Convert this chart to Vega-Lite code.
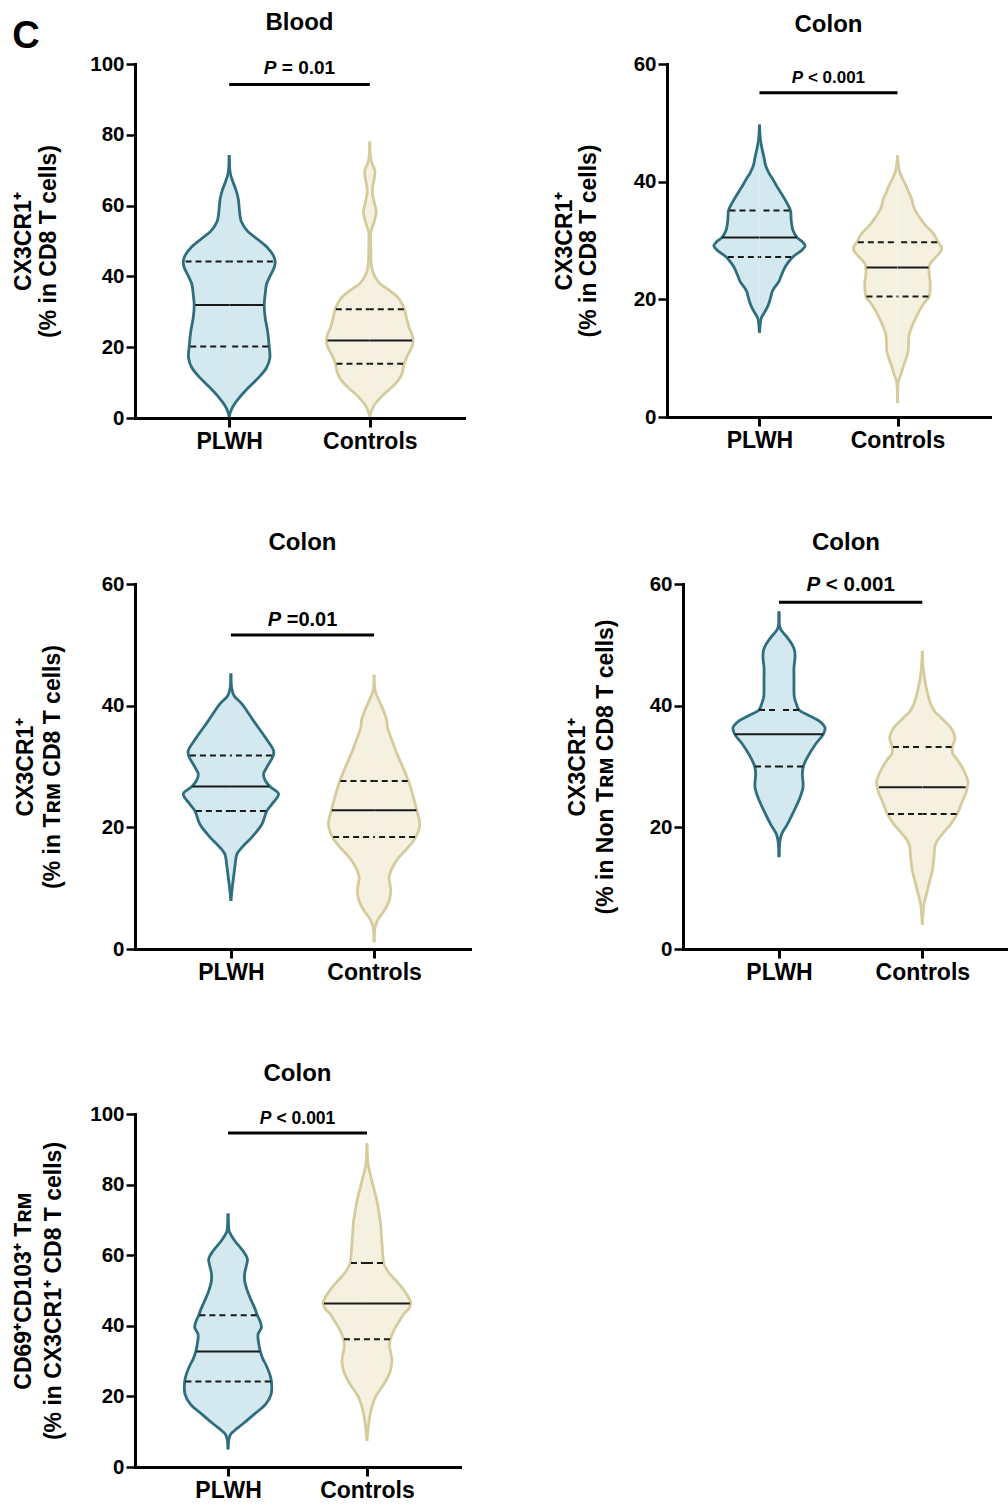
{
"$schema": "https://vega.github.io/schema/vega-lite/v6.json",
"background": "white",
"padding": {"left": 12, "top": 11, "right": 0, "bottom": 0},
"title": {"text": "C", "anchor": "start", "frame": "bounds", "fontSize": 38, "offset": -45},
"datasets": {
"outline": [
{"panel":1,"group":"PLWH","value":74.3,"density":0},{"panel":1,"group":"PLWH","value":70,"density":0.02},{"panel":1,"group":"PLWH","value":68.8,"density":0.04},{"panel":1,"group":"PLWH","value":67,"density":0.1},{"panel":1,"group":"PLWH","value":64.5,"density":0.2},{"panel":1,"group":"PLWH","value":62,"density":0.27},{"panel":1,"group":"PLWH","value":59.4,"density":0.3},{"panel":1,"group":"PLWH","value":57.5,"density":0.32},{"panel":1,"group":"PLWH","value":55.6,"density":0.36},{"panel":1,"group":"PLWH","value":52.8,"density":0.55},{"panel":1,"group":"PLWH","value":50.5,"density":0.85},{"panel":1,"group":"PLWH","value":48.1,"density":1.15},{"panel":1,"group":"PLWH","value":45.8,"density":1.33},{"panel":1,"group":"PLWH","value":44.2,"density":1.38},{"panel":1,"group":"PLWH","value":42.5,"density":1.35},{"panel":1,"group":"PLWH","value":39.6,"density":1.2},{"panel":1,"group":"PLWH","value":37.8,"density":1.12},{"panel":1,"group":"PLWH","value":35,"density":1.08},{"panel":1,"group":"PLWH","value":31.9,"density":1.05},{"panel":1,"group":"PLWH","value":28.3,"density":1.08},{"panel":1,"group":"PLWH","value":24.6,"density":1.15},{"panel":1,"group":"PLWH","value":20.2,"density":1.2},{"panel":1,"group":"PLWH","value":17,"density":1.22},{"panel":1,"group":"PLWH","value":14.2,"density":1.12},{"panel":1,"group":"PLWH","value":11.4,"density":0.88},{"panel":1,"group":"PLWH","value":8.6,"density":0.58},{"panel":1,"group":"PLWH","value":5.7,"density":0.3},{"panel":1,"group":"PLWH","value":3.4,"density":0.12},{"panel":1,"group":"PLWH","value":1.5,"density":0.03},{"panel":1,"group":"PLWH","value":0.2,"density":0},
{"panel":1,"group":"Controls","value":78.1,"density":0},{"panel":1,"group":"Controls","value":74,"density":0.02},{"panel":1,"group":"Controls","value":72,"density":0.06},{"panel":1,"group":"Controls","value":70,"density":0.15},{"panel":1,"group":"Controls","value":68,"density":0.14},{"panel":1,"group":"Controls","value":65.5,"density":0.09},{"panel":1,"group":"Controls","value":63.5,"density":0.08},{"panel":1,"group":"Controls","value":61,"density":0.13},{"panel":1,"group":"Controls","value":58.5,"density":0.19},{"panel":1,"group":"Controls","value":56,"density":0.15},{"panel":1,"group":"Controls","value":54,"density":0.08},{"panel":1,"group":"Controls","value":52.4,"density":0.03},{"panel":1,"group":"Controls","value":48,"density":0.03},{"panel":1,"group":"Controls","value":44,"density":0.04},{"panel":1,"group":"Controls","value":42,"density":0.07},{"panel":1,"group":"Controls","value":40,"density":0.15},{"panel":1,"group":"Controls","value":38,"density":0.3},{"panel":1,"group":"Controls","value":36,"density":0.6},{"panel":1,"group":"Controls","value":34,"density":0.85},{"panel":1,"group":"Controls","value":32,"density":0.98},{"panel":1,"group":"Controls","value":30.7,"density":1.04},{"panel":1,"group":"Controls","value":28.3,"density":1.1},{"panel":1,"group":"Controls","value":25.5,"density":1.18},{"panel":1,"group":"Controls","value":23.5,"density":1.27},{"panel":1,"group":"Controls","value":21.9,"density":1.3},{"panel":1,"group":"Controls","value":20.5,"density":1.28},{"panel":1,"group":"Controls","value":18.9,"density":1.2},{"panel":1,"group":"Controls","value":17,"density":1.1},{"panel":1,"group":"Controls","value":15.3,"density":1.03},{"panel":1,"group":"Controls","value":13,"density":0.98},{"panel":1,"group":"Controls","value":11,"density":0.88},{"panel":1,"group":"Controls","value":9.5,"density":0.75},{"panel":1,"group":"Controls","value":8,"density":0.58},{"panel":1,"group":"Controls","value":6.7,"density":0.42},{"panel":1,"group":"Controls","value":5,"density":0.25},{"panel":1,"group":"Controls","value":3.9,"density":0.15},{"panel":1,"group":"Controls","value":2,"density":0.05},{"panel":1,"group":"Controls","value":0.3,"density":0},
{"panel":2,"group":"PLWH","value":49.7,"density":0},{"panel":2,"group":"PLWH","value":47,"density":0.03},{"panel":2,"group":"PLWH","value":45.5,"density":0.08},{"panel":2,"group":"PLWH","value":44,"density":0.14},{"panel":2,"group":"PLWH","value":42.8,"density":0.18},{"panel":2,"group":"PLWH","value":41.5,"density":0.28},{"panel":2,"group":"PLWH","value":40.6,"density":0.38},{"panel":2,"group":"PLWH","value":39.4,"density":0.5},{"panel":2,"group":"PLWH","value":38.3,"density":0.62},{"panel":2,"group":"PLWH","value":36.6,"density":0.8},{"panel":2,"group":"PLWH","value":35.1,"density":0.93},{"panel":2,"group":"PLWH","value":33.5,"density":0.95},{"panel":2,"group":"PLWH","value":31.8,"density":1.0},{"panel":2,"group":"PLWH","value":30.5,"density":1.13},{"panel":2,"group":"PLWH","value":29.7,"density":1.3},{"panel":2,"group":"PLWH","value":29.1,"density":1.37},{"panel":2,"group":"PLWH","value":28.4,"density":1.28},{"panel":2,"group":"PLWH","value":27.2,"density":1.0},{"panel":2,"group":"PLWH","value":26.2,"density":0.85},{"panel":2,"group":"PLWH","value":25.3,"density":0.75},{"panel":2,"group":"PLWH","value":24,"density":0.65},{"panel":2,"group":"PLWH","value":23,"density":0.58},{"panel":2,"group":"PLWH","value":22,"density":0.45},{"panel":2,"group":"PLWH","value":21.3,"density":0.38},{"panel":2,"group":"PLWH","value":20.2,"density":0.33},{"panel":2,"group":"PLWH","value":19.3,"density":0.28},{"panel":2,"group":"PLWH","value":18.5,"density":0.22},{"panel":2,"group":"PLWH","value":17.5,"density":0.12},{"panel":2,"group":"PLWH","value":16.8,"density":0.05},{"panel":2,"group":"PLWH","value":16.2,"density":0.03},{"panel":2,"group":"PLWH","value":14.3,"density":0},
{"panel":2,"group":"Controls","value":44.5,"density":0},{"panel":2,"group":"Controls","value":42,"density":0.05},{"panel":2,"group":"Controls","value":40.5,"density":0.15},{"panel":2,"group":"Controls","value":39.4,"density":0.25},{"panel":2,"group":"Controls","value":38,"density":0.35},{"panel":2,"group":"Controls","value":37.2,"density":0.42},{"panel":2,"group":"Controls","value":36,"density":0.47},{"panel":2,"group":"Controls","value":34.9,"density":0.55},{"panel":2,"group":"Controls","value":33.8,"density":0.68},{"panel":2,"group":"Controls","value":32.7,"density":0.82},{"panel":2,"group":"Controls","value":31,"density":1.1},{"panel":2,"group":"Controls","value":29.7,"density":1.22},{"panel":2,"group":"Controls","value":28.7,"density":1.33},{"panel":2,"group":"Controls","value":27.8,"density":1.25},{"panel":2,"group":"Controls","value":27,"density":1.12},{"panel":2,"group":"Controls","value":26,"density":0.97},{"panel":2,"group":"Controls","value":25.4,"density":0.95},{"panel":2,"group":"Controls","value":24.2,"density":0.95},{"panel":2,"group":"Controls","value":23,"density":0.98},{"panel":2,"group":"Controls","value":22,"density":0.98},{"panel":2,"group":"Controls","value":20.5,"density":0.95},{"panel":2,"group":"Controls","value":19.5,"density":0.82},{"panel":2,"group":"Controls","value":18.5,"density":0.7},{"panel":2,"group":"Controls","value":16.3,"density":0.5},{"panel":2,"group":"Controls","value":14,"density":0.35},{"panel":2,"group":"Controls","value":12.5,"density":0.33},{"panel":2,"group":"Controls","value":11.2,"density":0.32},{"panel":2,"group":"Controls","value":10,"density":0.26},{"panel":2,"group":"Controls","value":9,"density":0.2},{"panel":2,"group":"Controls","value":8,"density":0.14},{"panel":2,"group":"Controls","value":7.2,"density":0.1},{"panel":2,"group":"Controls","value":6.1,"density":0.03},{"panel":2,"group":"Controls","value":2.4,"density":0},
{"panel":3,"group":"PLWH","value":45.3,"density":0},{"panel":3,"group":"PLWH","value":42.7,"density":0.03},{"panel":3,"group":"PLWH","value":41.6,"density":0.1},{"panel":3,"group":"PLWH","value":40.3,"density":0.33},{"panel":3,"group":"PLWH","value":37.5,"density":0.68},{"panel":3,"group":"PLWH","value":34.8,"density":1.03},{"panel":3,"group":"PLWH","value":32.6,"density":1.28},{"panel":3,"group":"PLWH","value":31.8,"density":1.27},{"panel":3,"group":"PLWH","value":29.9,"density":1.08},{"panel":3,"group":"PLWH","value":28.8,"density":0.98},{"panel":3,"group":"PLWH","value":27.8,"density":1.02},{"panel":3,"group":"PLWH","value":26.7,"density":1.17},{"panel":3,"group":"PLWH","value":25.5,"density":1.43},{"panel":3,"group":"PLWH","value":23.8,"density":1.23},{"panel":3,"group":"PLWH","value":22.7,"density":1.08},{"panel":3,"group":"PLWH","value":20.5,"density":0.93},{"panel":3,"group":"PLWH","value":18.4,"density":0.63},{"panel":3,"group":"PLWH","value":16.7,"density":0.33},{"panel":3,"group":"PLWH","value":15.6,"density":0.18},{"panel":3,"group":"PLWH","value":14,"density":0.13},{"panel":3,"group":"PLWH","value":11.8,"density":0.08},{"panel":3,"group":"PLWH","value":10.1,"density":0.04},{"panel":3,"group":"PLWH","value":7.9,"density":0},
{"panel":3,"group":"Controls","value":45.1,"density":0},{"panel":3,"group":"Controls","value":42.5,"density":0.03},{"panel":3,"group":"Controls","value":40.8,"density":0.15},{"panel":3,"group":"Controls","value":39.2,"density":0.28},{"panel":3,"group":"Controls","value":37.5,"density":0.38},{"panel":3,"group":"Controls","value":36.4,"density":0.4},{"panel":3,"group":"Controls","value":34.8,"density":0.5},{"panel":3,"group":"Controls","value":32.6,"density":0.65},{"panel":3,"group":"Controls","value":30.4,"density":0.82},{"panel":3,"group":"Controls","value":27.6,"density":1.03},{"panel":3,"group":"Controls","value":25.5,"density":1.15},{"panel":3,"group":"Controls","value":22.8,"density":1.28},{"panel":3,"group":"Controls","value":20.5,"density":1.37},{"panel":3,"group":"Controls","value":18.4,"density":1.25},{"panel":3,"group":"Controls","value":16.7,"density":1.02},{"panel":3,"group":"Controls","value":15.1,"density":0.75},{"panel":3,"group":"Controls","value":13.4,"density":0.55},{"panel":3,"group":"Controls","value":11.8,"density":0.45},{"panel":3,"group":"Controls","value":9.6,"density":0.5},{"panel":3,"group":"Controls","value":7.9,"density":0.45},{"panel":3,"group":"Controls","value":6.3,"density":0.3},{"panel":3,"group":"Controls","value":4.7,"density":0.1},{"panel":3,"group":"Controls","value":3.6,"density":0.03},{"panel":3,"group":"Controls","value":1.1,"density":0},
{"panel":4,"group":"PLWH","value":55.5,"density":0},{"panel":4,"group":"PLWH","value":53,"density":0.02},{"panel":4,"group":"PLWH","value":52.3,"density":0.08},{"panel":4,"group":"PLWH","value":51.2,"density":0.25},{"panel":4,"group":"PLWH","value":50,"density":0.4},{"panel":4,"group":"PLWH","value":49,"density":0.47},{"panel":4,"group":"PLWH","value":47.9,"density":0.48},{"panel":4,"group":"PLWH","value":46.3,"density":0.45},{"panel":4,"group":"PLWH","value":44.1,"density":0.45},{"panel":4,"group":"PLWH","value":41.4,"density":0.46},{"panel":4,"group":"PLWH","value":40.3,"density":0.52},{"panel":4,"group":"PLWH","value":39.3,"density":0.6},{"panel":4,"group":"PLWH","value":38.4,"density":0.9},{"panel":4,"group":"PLWH","value":37.5,"density":1.2},{"panel":4,"group":"PLWH","value":36.4,"density":1.38},{"panel":4,"group":"PLWH","value":35.3,"density":1.33},{"panel":4,"group":"PLWH","value":33.7,"density":1.1},{"panel":4,"group":"PLWH","value":31.5,"density":0.85},{"panel":4,"group":"PLWH","value":30,"density":0.73},{"panel":4,"group":"PLWH","value":28.8,"density":0.7},{"panel":4,"group":"PLWH","value":27.4,"density":0.72},{"panel":4,"group":"PLWH","value":26.6,"density":0.72},{"panel":4,"group":"PLWH","value":24.9,"density":0.63},{"panel":4,"group":"PLWH","value":22.7,"density":0.45},{"panel":4,"group":"PLWH","value":20.5,"density":0.25},{"panel":4,"group":"PLWH","value":18.9,"density":0.08},{"panel":4,"group":"PLWH","value":17.8,"density":0.03},{"panel":4,"group":"PLWH","value":15.1,"density":0},
{"panel":4,"group":"Controls","value":49,"density":0},{"panel":4,"group":"Controls","value":46,"density":0.03},{"panel":4,"group":"Controls","value":44,"density":0.08},{"panel":4,"group":"Controls","value":42,"density":0.16},{"panel":4,"group":"Controls","value":40.3,"density":0.25},{"panel":4,"group":"Controls","value":39,"density":0.38},{"panel":4,"group":"Controls","value":38.1,"density":0.55},{"panel":4,"group":"Controls","value":37,"density":0.75},{"panel":4,"group":"Controls","value":36.4,"density":0.85},{"panel":4,"group":"Controls","value":34.7,"density":0.98},{"panel":4,"group":"Controls","value":33.2,"density":0.9},{"panel":4,"group":"Controls","value":32,"density":0.92},{"panel":4,"group":"Controls","value":31.5,"density":1.0},{"panel":4,"group":"Controls","value":29.3,"density":1.25},{"panel":4,"group":"Controls","value":27.5,"density":1.37},{"panel":4,"group":"Controls","value":26.6,"density":1.35},{"panel":4,"group":"Controls","value":25.5,"density":1.3},{"panel":4,"group":"Controls","value":24.3,"density":1.2},{"panel":4,"group":"Controls","value":22.2,"density":1.05},{"panel":4,"group":"Controls","value":20.5,"density":0.85},{"panel":4,"group":"Controls","value":18.9,"density":0.6},{"panel":4,"group":"Controls","value":17.3,"density":0.4},{"panel":4,"group":"Controls","value":15.1,"density":0.35},{"panel":4,"group":"Controls","value":12.9,"density":0.3},{"panel":4,"group":"Controls","value":10.7,"density":0.2},{"panel":4,"group":"Controls","value":8.5,"density":0.1},{"panel":4,"group":"Controls","value":7.4,"density":0.05},{"panel":4,"group":"Controls","value":4,"density":0},
{"panel":5,"group":"PLWH","value":71.8,"density":0},{"panel":5,"group":"PLWH","value":67,"density":0.03},{"panel":5,"group":"PLWH","value":66.4,"density":0.05},{"panel":5,"group":"PLWH","value":64.1,"density":0.2},{"panel":5,"group":"PLWH","value":61.2,"density":0.45},{"panel":5,"group":"PLWH","value":59,"density":0.58},{"panel":5,"group":"PLWH","value":57,"density":0.55},{"panel":5,"group":"PLWH","value":55,"density":0.5},{"panel":5,"group":"PLWH","value":52.7,"density":0.5},{"panel":5,"group":"PLWH","value":49.9,"density":0.58},{"panel":5,"group":"PLWH","value":47.1,"density":0.7},{"panel":5,"group":"PLWH","value":45,"density":0.8},{"panel":5,"group":"PLWH","value":43,"density":0.88},{"panel":5,"group":"PLWH","value":41,"density":0.97},{"panel":5,"group":"PLWH","value":39.5,"density":1.0},{"panel":5,"group":"PLWH","value":37.6,"density":0.9},{"panel":5,"group":"PLWH","value":35,"density":0.92},{"panel":5,"group":"PLWH","value":32.7,"density":0.97},{"panel":5,"group":"PLWH","value":30.5,"density":1.05},{"panel":5,"group":"PLWH","value":29.1,"density":1.13},{"panel":5,"group":"PLWH","value":26.3,"density":1.25},{"panel":5,"group":"PLWH","value":24.3,"density":1.3},{"panel":5,"group":"PLWH","value":20.6,"density":1.29},{"panel":5,"group":"PLWH","value":17.8,"density":1.13},{"panel":5,"group":"PLWH","value":14.9,"density":0.78},{"panel":5,"group":"PLWH","value":12.1,"density":0.43},{"panel":5,"group":"PLWH","value":10.2,"density":0.18},{"panel":5,"group":"PLWH","value":9.3,"density":0.08},{"panel":5,"group":"PLWH","value":8,"density":0.03},{"panel":5,"group":"PLWH","value":5,"density":0},
{"panel":5,"group":"Controls","value":91.7,"density":0},{"panel":5,"group":"Controls","value":86,"density":0.03},{"panel":5,"group":"Controls","value":84,"density":0.07},{"panel":5,"group":"Controls","value":81,"density":0.15},{"panel":5,"group":"Controls","value":78,"density":0.23},{"panel":5,"group":"Controls","value":75.4,"density":0.3},{"panel":5,"group":"Controls","value":72,"density":0.36},{"panel":5,"group":"Controls","value":69.8,"density":0.4},{"panel":5,"group":"Controls","value":66,"density":0.43},{"panel":5,"group":"Controls","value":62,"density":0.46},{"panel":5,"group":"Controls","value":59.5,"density":0.48},{"panel":5,"group":"Controls","value":57.8,"density":0.5},{"panel":5,"group":"Controls","value":55.5,"density":0.62},{"panel":5,"group":"Controls","value":53,"density":0.85},{"panel":5,"group":"Controls","value":50.8,"density":1.05},{"panel":5,"group":"Controls","value":48,"density":1.25},{"panel":5,"group":"Controls","value":46.3,"density":1.32},{"panel":5,"group":"Controls","value":44.8,"density":1.25},{"panel":5,"group":"Controls","value":43.3,"density":1.1},{"panel":5,"group":"Controls","value":41,"density":0.95},{"panel":5,"group":"Controls","value":39.5,"density":0.85},{"panel":5,"group":"Controls","value":36.2,"density":0.7},{"panel":5,"group":"Controls","value":34,"density":0.68},{"panel":5,"group":"Controls","value":32.9,"density":0.7},{"panel":5,"group":"Controls","value":30.1,"density":0.75},{"panel":5,"group":"Controls","value":28,"density":0.72},{"panel":5,"group":"Controls","value":27.2,"density":0.7},{"panel":5,"group":"Controls","value":25,"density":0.6},{"panel":5,"group":"Controls","value":23.4,"density":0.5},{"panel":5,"group":"Controls","value":19.7,"density":0.25},{"panel":5,"group":"Controls","value":15.9,"density":0.12},{"panel":5,"group":"Controls","value":12.1,"density":0.05},{"panel":5,"group":"Controls","value":7.4,"density":0}
],
"quartiles": [
{"panel":1,"group":"PLWH","stat":"Q3","value":44.2,"density":1.31},{"panel":1,"group":"PLWH","stat":"Median","value":31.9,"density":1.02},{"panel":1,"group":"PLWH","stat":"Q1","value":20.2,"density":1.17},
{"panel":1,"group":"Controls","stat":"Q3","value":30.7,"density":1.02},{"panel":1,"group":"Controls","stat":"Median","value":21.9,"density":1.27},{"panel":1,"group":"Controls","stat":"Q1","value":15.3,"density":1.0},
{"panel":2,"group":"PLWH","stat":"Q3","value":35.1,"density":0.9},{"panel":2,"group":"PLWH","stat":"Median","value":30.5,"density":1.12},{"panel":2,"group":"PLWH","stat":"Q1","value":27.2,"density":0.95},
{"panel":2,"group":"Controls","stat":"Q3","value":29.7,"density":1.19},{"panel":2,"group":"Controls","stat":"Median","value":25.4,"density":0.93},{"panel":2,"group":"Controls","stat":"Q1","value":20.5,"density":0.93},
{"panel":3,"group":"PLWH","stat":"Q3","value":31.8,"density":1.23},{"panel":3,"group":"PLWH","stat":"Median","value":26.7,"density":1.15},{"panel":3,"group":"PLWH","stat":"Q1","value":22.7,"density":1.05},
{"panel":3,"group":"Controls","stat":"Q3","value":27.6,"density":1.01},{"panel":3,"group":"Controls","stat":"Median","value":22.8,"density":1.27},{"panel":3,"group":"Controls","stat":"Q1","value":18.4,"density":1.23},
{"panel":4,"group":"PLWH","stat":"Q3","value":39.3,"density":0.6},{"panel":4,"group":"PLWH","stat":"Median","value":35.3,"density":1.32},{"panel":4,"group":"PLWH","stat":"Q1","value":30.0,"density":0.72},
{"panel":4,"group":"Controls","stat":"Q3","value":33.2,"density":0.88},{"panel":4,"group":"Controls","stat":"Median","value":26.6,"density":1.3},{"panel":4,"group":"Controls","stat":"Q1","value":22.2,"density":1.03},
{"panel":5,"group":"PLWH","stat":"Q3","value":43.0,"density":0.86},{"panel":5,"group":"PLWH","stat":"Median","value":32.7,"density":0.95},{"panel":5,"group":"PLWH","stat":"Q1","value":24.2,"density":1.28},
{"panel":5,"group":"Controls","stat":"Q3","value":57.8,"density":0.48},{"panel":5,"group":"Controls","stat":"Median","value":46.3,"density":1.29},{"panel":5,"group":"Controls","stat":"Q1","value":36.2,"density":0.69}
],
"pvals": [
{"panel":1,"from":"PLWH","to":"Controls","lineY":94.2,"textY":97.3,"p":"= 0.01"},
{"panel":2,"from":"PLWH","to":"Controls","lineY":55.1,"textY":56.7,"p":"< 0.001"},
{"panel":3,"from":"PLWH","to":"Controls","lineY":51.6,"textY":53.1,"p":"=0.01"},
{"panel":4,"from":"PLWH","to":"Controls","lineY":57.0,"textY":58.9,"p":"< 0.001"},
{"panel":5,"from":"PLWH","to":"Controls","lineY":94.6,"textY":97.2,"p":"< 0.001"}
]
},
"columns": 1,
"align": "none",
"spacing": 78,
"concat": [
{"hconcat": [
{
"width": 329, "height": 354,
"title": {"text": "Blood", "offset": 19},
"resolve": {"scale": {"x": "independent"}, "axis": {"x": "independent", "y": "independent"}},
"layer": [
{"data": {"name": "outline"}, "transform": [{"filter": "datum.panel==1&&datum.group=='PLWH'"}],
 "encoding": {"y": {"field": "value", "type": "quantitative", "scale": {"domain": [0, 100], "nice": false}, "axis": {"orient": "left", "title": ["CX3CR1⁺", "(% in CD8 T cells)"], "values": [0,20,40,60,80,100], "tickSize": 9, "titlePadding": 29.5, "titleLineHeight": 25}},
  "x": {"field": "density", "type": "quantitative", "stack": null, "scale": {"domain": [-2.826, 7.044], "nice": false, "zero": false}, "axis": null}},
 "layer": [
  {"mark": {"type": "area", "orient": "horizontal", "interpolate": "catmull-rom", "color": "#d3e8ef"}},
  {"mark": {"type": "line", "interpolate": "catmull-rom", "color": "#2e6e7e", "strokeWidth": 2.8}, "encoding": {"order": {"field": "value", "type": "quantitative"}}},
  {"data": {"name": "quartiles"}, "transform": [{"filter": "datum.panel==1&&datum.group=='PLWH'"}], "mark": {"type": "rule", "color": "#1a1a1a", "strokeWidth": 2}, "encoding": {"x2": {"datum": 0}, "strokeDash": {"field": "stat", "type": "nominal", "scale": {"domain": ["Median", "Q1", "Q3"], "range": [[1, 0], [6, 4], [6, 4]]}, "legend": null}}}
 ]},
{"data": {"name": "outline"}, "transform": [{"filter": "datum.panel==1&&datum.group=='PLWH'"}],
 "encoding": {"y": {"field": "value", "type": "quantitative", "axis": null},
  "x": {"field": "density", "type": "quantitative", "stack": null, "scale": {"domain": [-7.044, 2.826], "nice": false, "zero": false, "reverse": true}, "axis": null}},
 "layer": [
  {"mark": {"type": "area", "orient": "horizontal", "interpolate": "catmull-rom", "color": "#d3e8ef"}},
  {"mark": {"type": "line", "interpolate": "catmull-rom", "color": "#2e6e7e", "strokeWidth": 2.8}, "encoding": {"order": {"field": "value", "type": "quantitative"}}},
  {"data": {"name": "quartiles"}, "transform": [{"filter": "datum.panel==1&&datum.group=='PLWH'"}], "mark": {"type": "rule", "color": "#1a1a1a", "strokeWidth": 2}, "encoding": {"x2": {"datum": 0}, "strokeDash": {"field": "stat", "type": "nominal", "legend": null}}}
 ]},
{"data": {"name": "outline"}, "transform": [{"filter": "datum.panel==1&&datum.group=='Controls'"}],
 "encoding": {"y": {"field": "value", "type": "quantitative", "axis": null},
  "x": {"field": "density", "type": "quantitative", "stack": null, "scale": {"domain": [-7.044, 2.826], "nice": false, "zero": false}, "axis": null}},
 "layer": [
  {"mark": {"type": "area", "orient": "horizontal", "interpolate": "catmull-rom", "color": "#f5f1e1"}},
  {"mark": {"type": "line", "interpolate": "catmull-rom", "color": "#d5cb9c", "strokeWidth": 2.8}, "encoding": {"order": {"field": "value", "type": "quantitative"}}},
  {"data": {"name": "quartiles"}, "transform": [{"filter": "datum.panel==1&&datum.group=='Controls'"}], "mark": {"type": "rule", "color": "#1a1a1a", "strokeWidth": 2}, "encoding": {"x2": {"datum": 0}, "strokeDash": {"field": "stat", "type": "nominal", "legend": null}}}
 ]},
{"data": {"name": "outline"}, "transform": [{"filter": "datum.panel==1&&datum.group=='Controls'"}],
 "encoding": {"y": {"field": "value", "type": "quantitative", "axis": null},
  "x": {"field": "density", "type": "quantitative", "stack": null, "scale": {"domain": [-2.826, 7.044], "nice": false, "zero": false, "reverse": true}, "axis": null}},
 "layer": [
  {"mark": {"type": "area", "orient": "horizontal", "interpolate": "catmull-rom", "color": "#f5f1e1"}},
  {"mark": {"type": "line", "interpolate": "catmull-rom", "color": "#d5cb9c", "strokeWidth": 2.8}, "encoding": {"order": {"field": "value", "type": "quantitative"}}},
  {"data": {"name": "quartiles"}, "transform": [{"filter": "datum.panel==1&&datum.group=='Controls'"}], "mark": {"type": "rule", "color": "#1a1a1a", "strokeWidth": 2}, "encoding": {"x2": {"datum": 0}, "strokeDash": {"field": "stat", "type": "nominal", "legend": null}}}
 ]},
{"data": {"name": "pvals"}, "transform": [{"filter": "datum.panel==1"}],
 "encoding": {"x": {"field": "from", "type": "nominal", "scale": {"type": "point", "domain": ["PLWH", "Controls"], "padding": 0.67}, "axis": {"title": null, "labelAngle": 0}}},
 "layer": [
  {"mark": {"type": "rule", "color": "#000000", "strokeWidth": 3}, "encoding": {"x2": {"field": "to"}, "y": {"field": "lineY", "type": "quantitative", "axis": {"orient": "left", "values": [10,30,50,70,90], "tickSize": 5, "labels": false, "domain": false, "title": null}}}},
  {"mark": {"type": "text", "text": "P", "fontStyle": "italic", "fontWeight": "bold", "fontSize": 19, "align": "right", "baseline": "alphabetic", "dx": 47.3, "color": "#000000"}, "encoding": {"y": {"field": "textY", "type": "quantitative", "axis": null}}},
  {"mark": {"type": "text", "fontWeight": "bold", "fontSize": 19, "align": "left", "baseline": "alphabetic", "dx": 52.6, "color": "#000000"}, "encoding": {"y": {"field": "textY", "type": "quantitative", "axis": null}, "text": {"field": "p", "type": "nominal"}}}
 ]}
]
},
{
"width": 323, "height": 353,
"title": {"text": "Colon", "offset": 17},
"resolve": {"scale": {"x": "independent"}, "axis": {"x": "independent", "y": "independent"}},
"layer": [
{"data": {"name": "outline"}, "transform": [{"filter": "datum.panel==2&&datum.group=='PLWH'"}],
 "encoding": {"y": {"field": "value", "type": "quantitative", "scale": {"domain": [0, 60], "nice": false}, "axis": {"orient": "left", "title": ["CX3CR1⁺", "(% in CD8 T cells)"], "values": [0,20,40,60], "tickSize": 9, "titlePadding": 32.3, "titleLineHeight": 24}},
  "x": {"field": "density", "type": "quantitative", "stack": null, "scale": {"domain": [-2.775, 6.915], "nice": false, "zero": false}, "axis": null}},
 "layer": [
  {"mark": {"type": "area", "orient": "horizontal", "interpolate": "catmull-rom", "color": "#d3e8ef"}},
  {"mark": {"type": "line", "interpolate": "catmull-rom", "color": "#2e6e7e", "strokeWidth": 2.8}, "encoding": {"order": {"field": "value", "type": "quantitative"}}},
  {"data": {"name": "quartiles"}, "transform": [{"filter": "datum.panel==2&&datum.group=='PLWH'"}], "mark": {"type": "rule", "color": "#1a1a1a", "strokeWidth": 2}, "encoding": {"x2": {"datum": 0}, "strokeDash": {"field": "stat", "type": "nominal", "legend": null}}}
 ]},
{"data": {"name": "outline"}, "transform": [{"filter": "datum.panel==2&&datum.group=='PLWH'"}],
 "encoding": {"y": {"field": "value", "type": "quantitative", "axis": null},
  "x": {"field": "density", "type": "quantitative", "stack": null, "scale": {"domain": [-6.915, 2.775], "nice": false, "zero": false, "reverse": true}, "axis": null}},
 "layer": [
  {"mark": {"type": "area", "orient": "horizontal", "interpolate": "catmull-rom", "color": "#d3e8ef"}},
  {"mark": {"type": "line", "interpolate": "catmull-rom", "color": "#2e6e7e", "strokeWidth": 2.8}, "encoding": {"order": {"field": "value", "type": "quantitative"}}},
  {"data": {"name": "quartiles"}, "transform": [{"filter": "datum.panel==2&&datum.group=='PLWH'"}], "mark": {"type": "rule", "color": "#1a1a1a", "strokeWidth": 2}, "encoding": {"x2": {"datum": 0}, "strokeDash": {"field": "stat", "type": "nominal", "legend": null}}}
 ]},
{"data": {"name": "outline"}, "transform": [{"filter": "datum.panel==2&&datum.group=='Controls'"}],
 "encoding": {"y": {"field": "value", "type": "quantitative", "axis": null},
  "x": {"field": "density", "type": "quantitative", "stack": null, "scale": {"domain": [-6.915, 2.775], "nice": false, "zero": false}, "axis": null}},
 "layer": [
  {"mark": {"type": "area", "orient": "horizontal", "interpolate": "catmull-rom", "color": "#f5f1e1"}},
  {"mark": {"type": "line", "interpolate": "catmull-rom", "color": "#d5cb9c", "strokeWidth": 2.8}, "encoding": {"order": {"field": "value", "type": "quantitative"}}},
  {"data": {"name": "quartiles"}, "transform": [{"filter": "datum.panel==2&&datum.group=='Controls'"}], "mark": {"type": "rule", "color": "#1a1a1a", "strokeWidth": 2}, "encoding": {"x2": {"datum": 0}, "strokeDash": {"field": "stat", "type": "nominal", "legend": null}}}
 ]},
{"data": {"name": "outline"}, "transform": [{"filter": "datum.panel==2&&datum.group=='Controls'"}],
 "encoding": {"y": {"field": "value", "type": "quantitative", "axis": null},
  "x": {"field": "density", "type": "quantitative", "stack": null, "scale": {"domain": [-2.775, 6.915], "nice": false, "zero": false, "reverse": true}, "axis": null}},
 "layer": [
  {"mark": {"type": "area", "orient": "horizontal", "interpolate": "catmull-rom", "color": "#f5f1e1"}},
  {"mark": {"type": "line", "interpolate": "catmull-rom", "color": "#d5cb9c", "strokeWidth": 2.8}, "encoding": {"order": {"field": "value", "type": "quantitative"}}},
  {"data": {"name": "quartiles"}, "transform": [{"filter": "datum.panel==2&&datum.group=='Controls'"}], "mark": {"type": "rule", "color": "#1a1a1a", "strokeWidth": 2}, "encoding": {"x2": {"datum": 0}, "strokeDash": {"field": "stat", "type": "nominal", "legend": null}}}
 ]},
{"data": {"name": "pvals"}, "transform": [{"filter": "datum.panel==2"}],
 "encoding": {"x": {"field": "from", "type": "nominal", "scale": {"type": "point", "domain": ["PLWH", "Controls"], "padding": 0.67}, "axis": {"title": null, "labelAngle": 0}}},
 "layer": [
  {"mark": {"type": "rule", "color": "#000000", "strokeWidth": 3}, "encoding": {"x2": {"field": "to"}, "y": {"field": "lineY", "type": "quantitative", "axis": {"orient": "left", "values": [10,30,50], "tickSize": 5, "labels": false, "domain": false, "title": null}}}},
  {"mark": {"type": "text", "text": "P", "fontStyle": "italic", "fontWeight": "bold", "fontSize": 17, "align": "right", "baseline": "alphabetic", "dx": 43.7, "color": "#000000"}, "encoding": {"y": {"field": "textY", "type": "quantitative", "axis": null}}},
  {"mark": {"type": "text", "fontWeight": "bold", "fontSize": 17, "align": "left", "baseline": "alphabetic", "dx": 48.4, "color": "#000000"}, "encoding": {"y": {"field": "textY", "type": "quantitative", "axis": null}, "text": {"field": "p", "type": "nominal"}}}
 ]}
]
}
], "spacing": 89},
{"hconcat": [
{
"width": 335, "height": 365,
"title": {"text": "Colon", "offset": 19},
"resolve": {"scale": {"x": "independent"}, "axis": {"x": "independent", "y": "independent"}},
"layer": [
{"data": {"name": "outline"}, "transform": [{"filter": "datum.panel==3&&datum.group=='PLWH'"}],
 "encoding": {"y": {"field": "value", "type": "quantitative", "scale": {"domain": [0, 60], "nice": false}, "axis": {"orient": "left", "title": ["CX3CR1⁺", "(% in Tʀᴍ CD8 T cells)"], "values": [0,20,40,60], "tickSize": 9, "titlePadding": 36.3, "titleLineHeight": 27}},
  "x": {"field": "density", "type": "quantitative", "stack": null, "scale": {"domain": [-2.877, 7.173], "nice": false, "zero": false}, "axis": null}},
 "layer": [
  {"mark": {"type": "area", "orient": "horizontal", "interpolate": "catmull-rom", "color": "#d3e8ef"}},
  {"mark": {"type": "line", "interpolate": "catmull-rom", "color": "#2e6e7e", "strokeWidth": 2.8}, "encoding": {"order": {"field": "value", "type": "quantitative"}}},
  {"data": {"name": "quartiles"}, "transform": [{"filter": "datum.panel==3&&datum.group=='PLWH'"}], "mark": {"type": "rule", "color": "#1a1a1a", "strokeWidth": 2}, "encoding": {"x2": {"datum": 0}, "strokeDash": {"field": "stat", "type": "nominal", "legend": null}}}
 ]},
{"data": {"name": "outline"}, "transform": [{"filter": "datum.panel==3&&datum.group=='PLWH'"}],
 "encoding": {"y": {"field": "value", "type": "quantitative", "axis": null},
  "x": {"field": "density", "type": "quantitative", "stack": null, "scale": {"domain": [-7.173, 2.877], "nice": false, "zero": false, "reverse": true}, "axis": null}},
 "layer": [
  {"mark": {"type": "area", "orient": "horizontal", "interpolate": "catmull-rom", "color": "#d3e8ef"}},
  {"mark": {"type": "line", "interpolate": "catmull-rom", "color": "#2e6e7e", "strokeWidth": 2.8}, "encoding": {"order": {"field": "value", "type": "quantitative"}}},
  {"data": {"name": "quartiles"}, "transform": [{"filter": "datum.panel==3&&datum.group=='PLWH'"}], "mark": {"type": "rule", "color": "#1a1a1a", "strokeWidth": 2}, "encoding": {"x2": {"datum": 0}, "strokeDash": {"field": "stat", "type": "nominal", "legend": null}}}
 ]},
{"data": {"name": "outline"}, "transform": [{"filter": "datum.panel==3&&datum.group=='Controls'"}],
 "encoding": {"y": {"field": "value", "type": "quantitative", "axis": null},
  "x": {"field": "density", "type": "quantitative", "stack": null, "scale": {"domain": [-7.173, 2.877], "nice": false, "zero": false}, "axis": null}},
 "layer": [
  {"mark": {"type": "area", "orient": "horizontal", "interpolate": "catmull-rom", "color": "#f5f1e1"}},
  {"mark": {"type": "line", "interpolate": "catmull-rom", "color": "#d5cb9c", "strokeWidth": 2.8}, "encoding": {"order": {"field": "value", "type": "quantitative"}}},
  {"data": {"name": "quartiles"}, "transform": [{"filter": "datum.panel==3&&datum.group=='Controls'"}], "mark": {"type": "rule", "color": "#1a1a1a", "strokeWidth": 2}, "encoding": {"x2": {"datum": 0}, "strokeDash": {"field": "stat", "type": "nominal", "legend": null}}}
 ]},
{"data": {"name": "outline"}, "transform": [{"filter": "datum.panel==3&&datum.group=='Controls'"}],
 "encoding": {"y": {"field": "value", "type": "quantitative", "axis": null},
  "x": {"field": "density", "type": "quantitative", "stack": null, "scale": {"domain": [-2.877, 7.173], "nice": false, "zero": false, "reverse": true}, "axis": null}},
 "layer": [
  {"mark": {"type": "area", "orient": "horizontal", "interpolate": "catmull-rom", "color": "#f5f1e1"}},
  {"mark": {"type": "line", "interpolate": "catmull-rom", "color": "#d5cb9c", "strokeWidth": 2.8}, "encoding": {"order": {"field": "value", "type": "quantitative"}}},
  {"data": {"name": "quartiles"}, "transform": [{"filter": "datum.panel==3&&datum.group=='Controls'"}], "mark": {"type": "rule", "color": "#1a1a1a", "strokeWidth": 2}, "encoding": {"x2": {"datum": 0}, "strokeDash": {"field": "stat", "type": "nominal", "legend": null}}}
 ]},
{"data": {"name": "pvals"}, "transform": [{"filter": "datum.panel==3"}],
 "encoding": {"x": {"field": "from", "type": "nominal", "scale": {"type": "point", "domain": ["PLWH", "Controls"], "padding": 0.67}, "axis": {"title": null, "labelAngle": 0}}},
 "layer": [
  {"mark": {"type": "rule", "color": "#000000", "strokeWidth": 3}, "encoding": {"x2": {"field": "to"}, "y": {"field": "lineY", "type": "quantitative", "axis": {"orient": "left", "values": [10,30,50], "tickSize": 5, "labels": false, "domain": false, "title": null}}}},
  {"mark": {"type": "text", "text": "P", "fontStyle": "italic", "fontWeight": "bold", "fontSize": 20, "align": "right", "baseline": "alphabetic", "dx": 50.2, "color": "#000000"}, "encoding": {"y": {"field": "textY", "type": "quantitative", "axis": null}}},
  {"mark": {"type": "text", "fontWeight": "bold", "fontSize": 20, "align": "left", "baseline": "alphabetic", "dx": 55.8, "color": "#000000"}, "encoding": {"y": {"field": "textY", "type": "quantitative", "axis": null}, "text": {"field": "p", "type": "nominal"}}}
 ]}
]
},
{
"width": 326, "height": 365,
"title": {"text": "Colon", "offset": 19},
"resolve": {"scale": {"x": "independent"}, "axis": {"x": "independent", "y": "independent"}},
"layer": [
{"data": {"name": "outline"}, "transform": [{"filter": "datum.panel==4&&datum.group=='PLWH'"}],
 "encoding": {"y": {"field": "value", "type": "quantitative", "scale": {"domain": [0, 60], "nice": false}, "axis": {"orient": "left", "title": ["CX3CR1⁺", "(% in Non Tʀᴍ CD8 T cells)"], "values": [0,20,40,60], "tickSize": 9, "titlePadding": 31.3, "titleLineHeight": 28}},
  "x": {"field": "density", "type": "quantitative", "stack": null, "scale": {"domain": [-2.88, 6.9], "nice": false, "zero": false}, "axis": null}},
 "layer": [
  {"mark": {"type": "area", "orient": "horizontal", "interpolate": "catmull-rom", "color": "#d3e8ef"}},
  {"mark": {"type": "line", "interpolate": "catmull-rom", "color": "#2e6e7e", "strokeWidth": 2.8}, "encoding": {"order": {"field": "value", "type": "quantitative"}}},
  {"data": {"name": "quartiles"}, "transform": [{"filter": "datum.panel==4&&datum.group=='PLWH'"}], "mark": {"type": "rule", "color": "#1a1a1a", "strokeWidth": 2}, "encoding": {"x2": {"datum": 0}, "strokeDash": {"field": "stat", "type": "nominal", "legend": null}}}
 ]},
{"data": {"name": "outline"}, "transform": [{"filter": "datum.panel==4&&datum.group=='PLWH'"}],
 "encoding": {"y": {"field": "value", "type": "quantitative", "axis": null},
  "x": {"field": "density", "type": "quantitative", "stack": null, "scale": {"domain": [-6.9, 2.88], "nice": false, "zero": false, "reverse": true}, "axis": null}},
 "layer": [
  {"mark": {"type": "area", "orient": "horizontal", "interpolate": "catmull-rom", "color": "#d3e8ef"}},
  {"mark": {"type": "line", "interpolate": "catmull-rom", "color": "#2e6e7e", "strokeWidth": 2.8}, "encoding": {"order": {"field": "value", "type": "quantitative"}}},
  {"data": {"name": "quartiles"}, "transform": [{"filter": "datum.panel==4&&datum.group=='PLWH'"}], "mark": {"type": "rule", "color": "#1a1a1a", "strokeWidth": 2}, "encoding": {"x2": {"datum": 0}, "strokeDash": {"field": "stat", "type": "nominal", "legend": null}}}
 ]},
{"data": {"name": "outline"}, "transform": [{"filter": "datum.panel==4&&datum.group=='Controls'"}],
 "encoding": {"y": {"field": "value", "type": "quantitative", "axis": null},
  "x": {"field": "density", "type": "quantitative", "stack": null, "scale": {"domain": [-7.179, 2.601], "nice": false, "zero": false}, "axis": null}},
 "layer": [
  {"mark": {"type": "area", "orient": "horizontal", "interpolate": "catmull-rom", "color": "#f5f1e1"}},
  {"mark": {"type": "line", "interpolate": "catmull-rom", "color": "#d5cb9c", "strokeWidth": 2.8}, "encoding": {"order": {"field": "value", "type": "quantitative"}}},
  {"data": {"name": "quartiles"}, "transform": [{"filter": "datum.panel==4&&datum.group=='Controls'"}], "mark": {"type": "rule", "color": "#1a1a1a", "strokeWidth": 2}, "encoding": {"x2": {"datum": 0}, "strokeDash": {"field": "stat", "type": "nominal", "legend": null}}}
 ]},
{"data": {"name": "outline"}, "transform": [{"filter": "datum.panel==4&&datum.group=='Controls'"}],
 "encoding": {"y": {"field": "value", "type": "quantitative", "axis": null},
  "x": {"field": "density", "type": "quantitative", "stack": null, "scale": {"domain": [-2.601, 7.179], "nice": false, "zero": false, "reverse": true}, "axis": null}},
 "layer": [
  {"mark": {"type": "area", "orient": "horizontal", "interpolate": "catmull-rom", "color": "#f5f1e1"}},
  {"mark": {"type": "line", "interpolate": "catmull-rom", "color": "#d5cb9c", "strokeWidth": 2.8}, "encoding": {"order": {"field": "value", "type": "quantitative"}}},
  {"data": {"name": "quartiles"}, "transform": [{"filter": "datum.panel==4&&datum.group=='Controls'"}], "mark": {"type": "rule", "color": "#1a1a1a", "strokeWidth": 2}, "encoding": {"x2": {"datum": 0}, "strokeDash": {"field": "stat", "type": "nominal", "legend": null}}}
 ]},
{"data": {"name": "pvals"}, "transform": [{"filter": "datum.panel==4"}],
 "encoding": {"x": {"field": "from", "type": "nominal", "scale": {"type": "point", "domain": ["PLWH", "Controls"], "padding": 0.6375, "align": 0.5255}, "axis": {"title": null, "labelAngle": 0}}},
 "layer": [
  {"mark": {"type": "rule", "color": "#000000", "strokeWidth": 3}, "encoding": {"x2": {"field": "to"}, "y": {"field": "lineY", "type": "quantitative", "axis": {"orient": "left", "values": [10,30,50], "tickSize": 5, "labels": false, "domain": false, "title": null}}}},
  {"mark": {"type": "text", "text": "P", "fontStyle": "italic", "fontWeight": "bold", "fontSize": 20.5, "align": "right", "baseline": "alphabetic", "dx": 41.1, "color": "#000000"}, "encoding": {"y": {"field": "textY", "type": "quantitative", "axis": null}}},
  {"mark": {"type": "text", "fontWeight": "bold", "fontSize": 20.5, "align": "left", "baseline": "alphabetic", "dx": 46.8, "color": "#000000"}, "encoding": {"y": {"field": "textY", "type": "quantitative", "axis": null}, "text": {"field": "p", "type": "nominal"}}}
 ]}
]
}
], "spacing": 96},
{
"width": 325, "height": 353,
"title": {"text": "Colon", "offset": 18},
"resolve": {"scale": {"x": "independent"}, "axis": {"x": "independent", "y": "independent"}},
"layer": [
{"data": {"name": "outline"}, "transform": [{"filter": "datum.panel==5&&datum.group=='PLWH'"}],
 "encoding": {"y": {"field": "value", "type": "quantitative", "scale": {"domain": [0, 100], "nice": false}, "axis": {"orient": "left", "title": ["CD69⁺CD103⁺ Tʀᴍ", "(% in CX3CR1⁺ CD8 T cells)"], "values": [0,20,40,60,80,100], "tickSize": 9, "titlePadding": 24.5, "titleLineHeight": 30}},
  "x": {"field": "density", "type": "quantitative", "stack": null, "scale": {"domain": [-2.7915, 6.9585], "nice": false, "zero": false}, "axis": null}},
 "layer": [
  {"mark": {"type": "area", "orient": "horizontal", "interpolate": "catmull-rom", "color": "#d3e8ef"}},
  {"mark": {"type": "line", "interpolate": "catmull-rom", "color": "#2e6e7e", "strokeWidth": 2.8}, "encoding": {"order": {"field": "value", "type": "quantitative"}}},
  {"data": {"name": "quartiles"}, "transform": [{"filter": "datum.panel==5&&datum.group=='PLWH'"}], "mark": {"type": "rule", "color": "#1a1a1a", "strokeWidth": 2}, "encoding": {"x2": {"datum": 0}, "strokeDash": {"field": "stat", "type": "nominal", "legend": null}}}
 ]},
{"data": {"name": "outline"}, "transform": [{"filter": "datum.panel==5&&datum.group=='PLWH'"}],
 "encoding": {"y": {"field": "value", "type": "quantitative", "axis": null},
  "x": {"field": "density", "type": "quantitative", "stack": null, "scale": {"domain": [-6.9585, 2.7915], "nice": false, "zero": false, "reverse": true}, "axis": null}},
 "layer": [
  {"mark": {"type": "area", "orient": "horizontal", "interpolate": "catmull-rom", "color": "#d3e8ef"}},
  {"mark": {"type": "line", "interpolate": "catmull-rom", "color": "#2e6e7e", "strokeWidth": 2.8}, "encoding": {"order": {"field": "value", "type": "quantitative"}}},
  {"data": {"name": "quartiles"}, "transform": [{"filter": "datum.panel==5&&datum.group=='PLWH'"}], "mark": {"type": "rule", "color": "#1a1a1a", "strokeWidth": 2}, "encoding": {"x2": {"datum": 0}, "strokeDash": {"field": "stat", "type": "nominal", "legend": null}}}
 ]},
{"data": {"name": "outline"}, "transform": [{"filter": "datum.panel==5&&datum.group=='Controls'"}],
 "encoding": {"y": {"field": "value", "type": "quantitative", "axis": null},
  "x": {"field": "density", "type": "quantitative", "stack": null, "scale": {"domain": [-6.9585, 2.7915], "nice": false, "zero": false}, "axis": null}},
 "layer": [
  {"mark": {"type": "area", "orient": "horizontal", "interpolate": "catmull-rom", "color": "#f5f1e1"}},
  {"mark": {"type": "line", "interpolate": "catmull-rom", "color": "#d5cb9c", "strokeWidth": 2.8}, "encoding": {"order": {"field": "value", "type": "quantitative"}}},
  {"data": {"name": "quartiles"}, "transform": [{"filter": "datum.panel==5&&datum.group=='Controls'"}], "mark": {"type": "rule", "color": "#1a1a1a", "strokeWidth": 2}, "encoding": {"x2": {"datum": 0}, "strokeDash": {"field": "stat", "type": "nominal", "legend": null}}}
 ]},
{"data": {"name": "outline"}, "transform": [{"filter": "datum.panel==5&&datum.group=='Controls'"}],
 "encoding": {"y": {"field": "value", "type": "quantitative", "axis": null},
  "x": {"field": "density", "type": "quantitative", "stack": null, "scale": {"domain": [-2.7915, 6.9585], "nice": false, "zero": false, "reverse": true}, "axis": null}},
 "layer": [
  {"mark": {"type": "area", "orient": "horizontal", "interpolate": "catmull-rom", "color": "#f5f1e1"}},
  {"mark": {"type": "line", "interpolate": "catmull-rom", "color": "#d5cb9c", "strokeWidth": 2.8}, "encoding": {"order": {"field": "value", "type": "quantitative"}}},
  {"data": {"name": "quartiles"}, "transform": [{"filter": "datum.panel==5&&datum.group=='Controls'"}], "mark": {"type": "rule", "color": "#1a1a1a", "strokeWidth": 2}, "encoding": {"x2": {"datum": 0}, "strokeDash": {"field": "stat", "type": "nominal", "legend": null}}}
 ]},
{"data": {"name": "pvals"}, "transform": [{"filter": "datum.panel==5"}],
 "encoding": {"x": {"field": "from", "type": "nominal", "scale": {"type": "point", "domain": ["PLWH", "Controls"], "padding": 0.67}, "axis": {"title": null, "labelAngle": 0}}},
 "layer": [
  {"mark": {"type": "rule", "color": "#000000", "strokeWidth": 3}, "encoding": {"x2": {"field": "to"}, "y": {"field": "lineY", "type": "quantitative", "axis": {"orient": "left", "values": [10,30,50,70,90], "tickSize": 5, "labels": false, "domain": false, "title": null}}}},
  {"mark": {"type": "text", "text": "P", "fontStyle": "italic", "fontWeight": "bold", "fontSize": 17.5, "align": "right", "baseline": "alphabetic", "dx": 43.5, "color": "#000000"}, "encoding": {"y": {"field": "textY", "type": "quantitative", "axis": null}}},
  {"mark": {"type": "text", "fontWeight": "bold", "fontSize": 17.5, "align": "left", "baseline": "alphabetic", "dx": 48.4, "color": "#000000"}, "encoding": {"y": {"field": "textY", "type": "quantitative", "axis": null}, "text": {"field": "p", "type": "nominal"}}}
 ]}
]
}
],
"config": {
 "font": "Liberation Sans",
 "view": {"stroke": null},
 "title": {"font": "Liberation Sans", "fontSize": 24, "fontWeight": "bold", "color": "#000000", "frame": "group", "anchor": "middle", "baseline": "alphabetic"},
 "text": {"font": "Liberation Sans"},
 "axis": {"domainColor": "#000000", "domainWidth": 3, "domainCap": "square", "tickColor": "#000000", "tickWidth": 2.5, "grid": false, "labelFont": "Liberation Sans", "labelFontWeight": "bold", "labelColor": "#000000", "titleFont": "Liberation Sans", "titleFontWeight": "bold", "titleColor": "#000000", "labelOverlap": false},
 "axisY": {"labelFontSize": 20.5, "labelPadding": 2, "titleFontSize": 23},
 "axisX": {"labelFontSize": 23, "labelPadding": 3, "tickSize": 9, "tickWidth": 3}
}
}
